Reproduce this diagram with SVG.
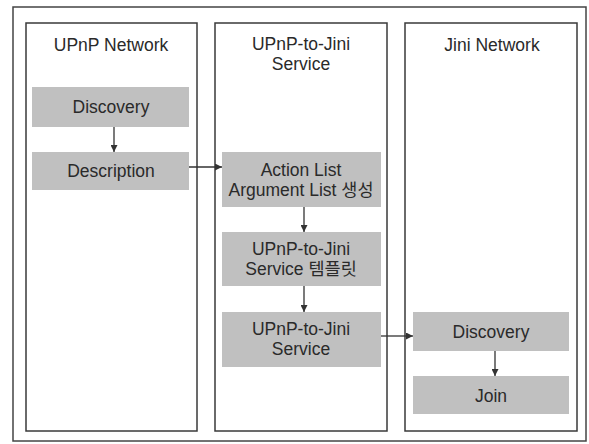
<svg xmlns="http://www.w3.org/2000/svg" width="589" height="444" viewBox="0 0 589 444">
<defs>
<style>
.frame{fill:#fff;stroke:#444;stroke-width:1.5}
.col{fill:#fff;stroke:#3a3a3a;stroke-width:1.5}
.box{fill:#c0c0c0;stroke:none}
.t{font-family:"Liberation Sans","Noto Sans CJK KR",sans-serif;font-size:17.5px;fill:#2a2a2a;text-anchor:middle}
.c{fill:none;stroke:#333;stroke-width:1.3}
</style>
<marker id="ah" viewBox="0 0 10 10" refX="10" refY="5" markerWidth="7" markerHeight="7" markerUnits="userSpaceOnUse" orient="auto">
<path d="M0,0 L10,5 L0,10 z" fill="#333"/>
</marker>
</defs>
<rect x="0" y="0" width="589" height="444" fill="#fff"/>
<rect class="frame" x="13" y="7" width="573" height="434"/>
<g id="col-upnp">
<rect class="col" x="26" y="23" width="171" height="408"/>
<text class="t" x="111" y="51">UPnP Network</text>
</g>
<g id="col-service">
<rect class="col" x="215" y="23" width="172" height="408"/>
<text class="t" x="301" y="50">UPnP-to-Jini</text>
<text class="t" x="301" y="70">Service</text>
</g>
<g id="col-jini">
<rect class="col" x="405" y="23" width="172" height="408"/>
<text class="t" x="492" y="51">Jini Network</text>
</g>
<g id="upnp-discovery">
<rect class="box" x="32" y="87" width="157" height="40"/>
<text class="t" x="111" y="113">Discovery</text>
</g>
<g id="upnp-description">
<rect class="box" x="32" y="152" width="157" height="38"/>
<text class="t" x="111" y="177">Description</text>
</g>
<g id="action-list">
<rect class="box" x="222" y="152" width="159" height="55"/>
<text class="t" x="301" y="176">Action List</text>
<text class="t" x="301" y="196">Argument List 생성</text>
</g>
<g id="template">
<rect class="box" x="222" y="232" width="159" height="54"/>
<text class="t" x="301" y="255">UPnP-to-Jini</text>
<text class="t" x="301" y="275">Service 템플릿</text>
</g>
<g id="service">
<rect class="box" x="222" y="312" width="159" height="55"/>
<text class="t" x="301" y="335">UPnP-to-Jini</text>
<text class="t" x="301" y="355">Service</text>
</g>
<g id="jini-discovery">
<rect class="box" x="413" y="312" width="156" height="39"/>
<text class="t" x="491" y="338">Discovery</text>
</g>
<g id="jini-join">
<rect class="box" x="413" y="376" width="156" height="38"/>
<text class="t" x="491" y="402">Join</text>
</g>
<g id="connectors">
<line class="c" x1="114" y1="127" x2="114" y2="152" marker-end="url(#ah)"/>
<line class="c" x1="189" y1="167" x2="222" y2="167" marker-end="url(#ah)"/>
<line class="c" x1="304" y1="207" x2="304" y2="232" marker-end="url(#ah)"/>
<line class="c" x1="304" y1="286" x2="304" y2="312" marker-end="url(#ah)"/>
<line class="c" x1="381" y1="336" x2="413" y2="336" marker-end="url(#ah)"/>
<line class="c" x1="495" y1="351" x2="495" y2="376" marker-end="url(#ah)"/>
</g>
</svg>
